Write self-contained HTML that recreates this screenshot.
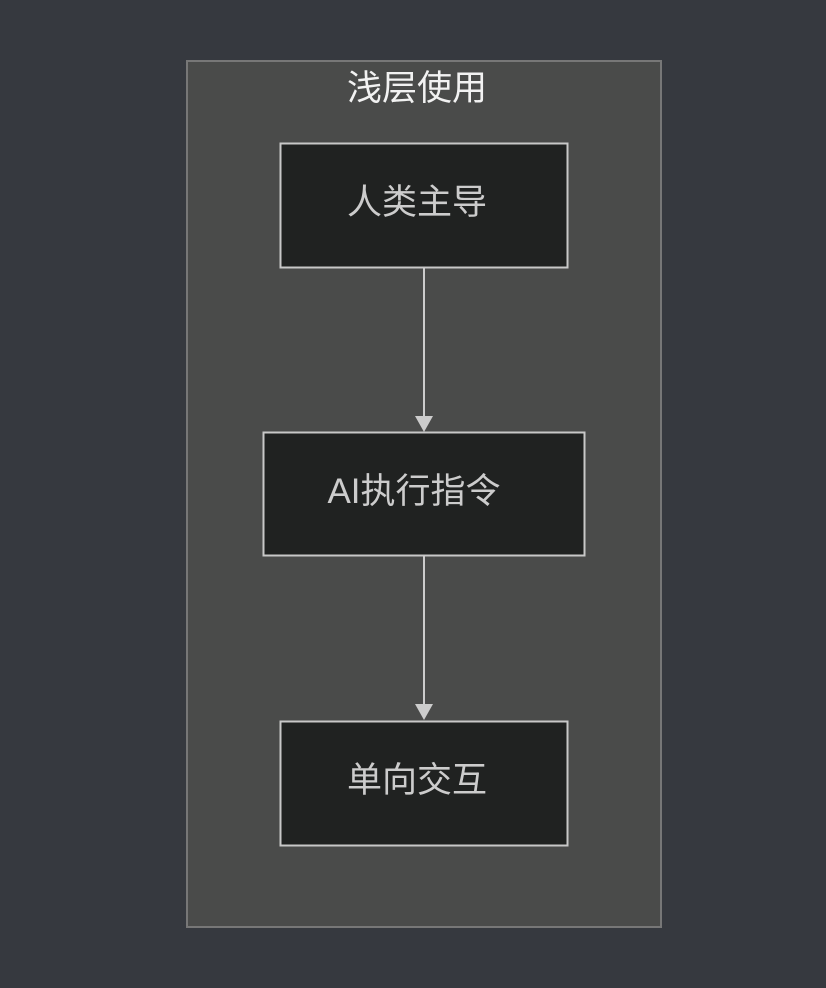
<!DOCTYPE html>
<html><head><meta charset="utf-8"><style>
html,body{margin:0;padding:0;background:#36393f;}
body{width:826px;height:988px;overflow:hidden;}
</style></head><body>
<svg width="826" height="988" xmlns="http://www.w3.org/2000/svg" style="display:block">
<rect x="0" y="0" width="826" height="988" fill="#36393f"/>
<rect x="187" y="61" width="474" height="866" fill="#4a4b4a" stroke="#777" stroke-width="2"/>
<text x="417" y="100" text-anchor="middle" font-family="'Liberation Sans','Noto Sans CJK SC',sans-serif" font-size="35" fill="#f2f2f2">浅层使用</text>
<g font-family="'Liberation Sans','Noto Sans CJK SC',sans-serif" font-size="35" fill="#cccccc" text-anchor="middle">
<rect x="280.5" y="143.5" width="287" height="124" fill="#202221" stroke="#c8c8c8" stroke-width="2"/>
<text x="417" y="214">人类主导</text>
<rect x="263.5" y="432.5" width="321" height="123" fill="#202221" stroke="#c8c8c8" stroke-width="2"/>
<text x="414" y="503">AI执行指令</text>
<rect x="280.5" y="721.5" width="287" height="124" fill="#202221" stroke="#c8c8c8" stroke-width="2"/>
<text x="417" y="792">单向交互</text>
</g>
<line x1="424" y1="268" x2="424" y2="418" stroke="#cccccc" stroke-width="2"/>
<polygon points="415,416 433,416 424,432" fill="#cccccc"/>
<line x1="424" y1="556" x2="424" y2="706" stroke="#cccccc" stroke-width="2"/>
<polygon points="415,704 433,704 424,720" fill="#cccccc"/>
</svg>
</body></html>
